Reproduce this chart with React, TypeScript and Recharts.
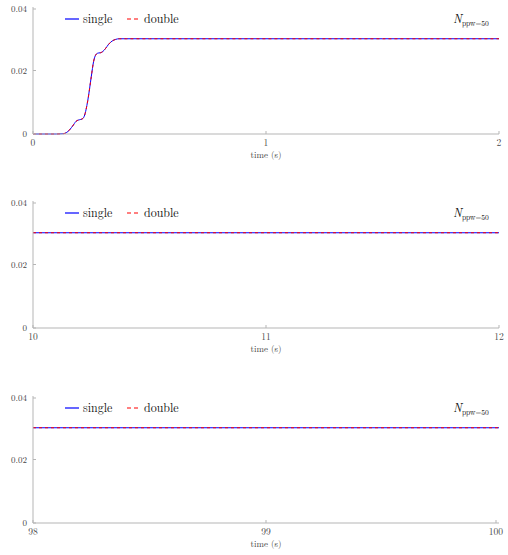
import React from "react";
import { LineChart, Line, XAxis, YAxis, Legend } from "recharts";

// panel 1: start-up transient (time in s, value)
const startTime = [0, 0.1, 0.13, 0.15, 0.17, 0.185, 0.2, 0.21, 0.22, 0.235, 0.25, 0.26, 0.27, 0.28, 0.29, 0.3, 0.31, 0.325, 0.34, 0.355, 0.37, 0.4, 0.5, 1, 1.5, 2];
const startSingle = [0, 0, 0.0001, 0.0008, 0.0025, 0.004, 0.0045, 0.0047, 0.0056, 0.0105, 0.018, 0.0228, 0.025, 0.0255, 0.0256, 0.026, 0.0268, 0.0283, 0.0293, 0.0298, 0.03, 0.03, 0.03, 0.03, 0.03, 0.03];
const startDouble = [0, 0, 0.0001, 0.0008, 0.0025, 0.004, 0.0045, 0.0047, 0.0056, 0.0105, 0.018, 0.0228, 0.025, 0.0255, 0.0256, 0.026, 0.0268, 0.0283, 0.0293, 0.0298, 0.03, 0.03, 0.03, 0.03, 0.03, 0.03];

// panel 2 and 3: steady state
const midTime = [10, 11, 12];
const midSingle = [0.03, 0.03, 0.03];
const midDouble = [0.03, 0.03, 0.03];
const endTime = [98, 99, 100];
const endSingle = [0.03, 0.03, 0.03];
const endDouble = [0.03, 0.03, 0.03];

const yTicks = [0, 0.02, 0.04];

const FONT = "'Latin Modern Roman', 'DejaVu Serif', 'Liberation Serif', serif";
const AXIS = "#b5b5b5";
const TEXT = "#444";

const build = (t: number[], a: number[], b: number[]) =>
  t.map((time, i) => ({ time, single: a[i], double: b[i] }));

const fmtY = (v: number) => (v === 0 ? "0" : v.toFixed(2));

const YTick = (props: any) => {
  const { x, y, payload } = props;
  return (
    <g>
      <line x1={x + 6} x2={x + 9} y1={y} y2={y} stroke={AXIS} />
      <text x={x} y={y + 3} textAnchor="end" fontSize={9} fill={TEXT} fontFamily={FONT}>
        {fmtY(payload.value)}
      </text>
    </g>
  );
};

const XTick = (props: any) => {
  const { x, y, payload } = props;
  return (
    <g>
      <line x1={x} x2={x} y1={y} y2={y - 3} stroke={AXIS} />
      <text x={x} y={y + 12} textAnchor="middle" fontSize={9.5} fill={TEXT} fontFamily={FONT}>
        {payload.value}
      </text>
    </g>
  );
};

// zero-size box so the legend takes no room from the plot
const LegendBox = () => (
  <div style={{ position: "relative", width: 0, height: 0, overflow: "visible", fontFamily: FONT }}>
    <svg width={508} height={30} style={{ position: "absolute", left: 0, top: 0, overflow: "visible" }}>
      <line x1={65} x2={79} y1={19} y2={19} stroke="#0000ff" strokeWidth={1.2} />
      <text x={83} y={23} fontSize={12} fontFamily={FONT} fill="#111">single</text>
      <line x1={127} x2={138} y1={19} y2={19} stroke="#ff0000" strokeWidth={1.2} strokeDasharray="4 3" />
      <text x={144} y={23} fontSize={12} fontFamily={FONT} fill="#111">double</text>
      <text x={453} y={23} fontSize={12} fontFamily={FONT} fill="#111">
        <tspan fontStyle="italic">N</tspan>
        <tspan fontSize={7.5} dy={3}>ppw=50</tspan>
      </text>
    </svg>
  </div>
);

function Panel({ data, domain, ticks, top }: { data: any[]; domain: [number, number]; ticks: number[]; top: number }) {
  return (
    <div style={{ position: "absolute", left: 0, top, width: 508, height: 195 }}>
      <LineChart width={508} height={195} data={data} margin={{ top: 7, right: 9, left: 0, bottom: 0 }} style={{ overflow: "visible" }}>
        <XAxis
          dataKey="time"
          type="number"
          domain={domain}
          ticks={ticks}
          stroke={AXIS}
          tickSize={0}
          tickMargin={0}
          height={61}
          tick={<XTick />}
          label={{ value: "time (s)", position: "insideTop", offset: 18, fontSize: 9, fill: TEXT, fontFamily: FONT }}
        />
        <YAxis
          type="number"
          domain={[0, 0.04]}
          ticks={yTicks}
          stroke={AXIS}
          width={33}
          tickSize={0}
          tickMargin={6}
          tick={<YTick />}
        />
        <Legend
          layout="horizontal"
          verticalAlign="top"
          align="left"
          wrapperStyle={{ top: 0, left: 0 }}
          content={<LegendBox />}
        />
        <Line dataKey="single" type="monotone" stroke="#0000ff" strokeWidth={1} dot={false} isAnimationActive={false} />
        <Line dataKey="double" type="monotone" stroke="#ff0000" strokeWidth={1} strokeDasharray="3 3" dot={false} isAnimationActive={false} />
      </LineChart>
    </div>
  );
}

export default function App() {
  return (
    <div style={{ position: "fixed", left: 0, top: 0, width: 508, height: 555, background: "#fff" }}>
      <Panel data={build(startTime, startSingle, startDouble)} domain={[0, 2]} ticks={[0, 1, 2]} top={0} />
      <Panel data={build(midTime, midSingle, midDouble)} domain={[10, 12]} ticks={[10, 11, 12]} top={194} />
      <Panel data={build(endTime, endSingle, endDouble)} domain={[98, 100]} ticks={[98, 99, 100]} top={389} />
    </div>
  );
}
